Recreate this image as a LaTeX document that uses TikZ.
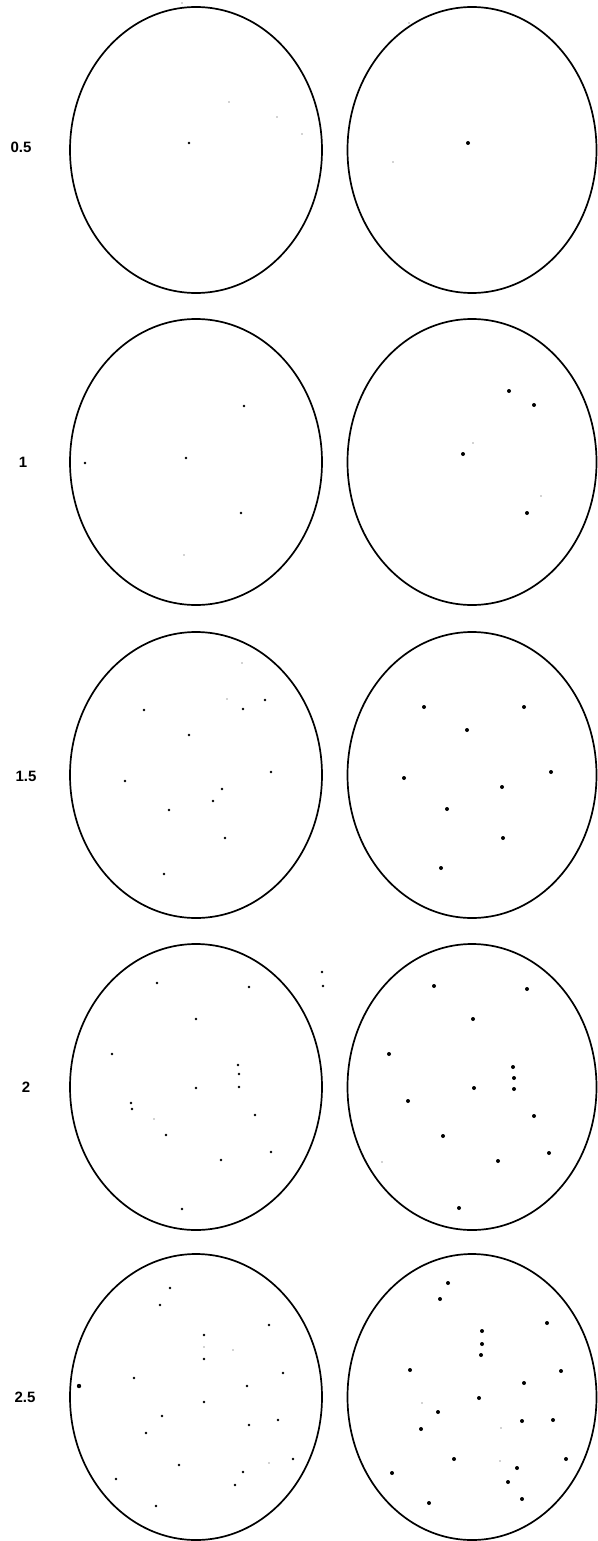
\documentclass[tikz,border=0pt]{standalone}
\usepackage{fontspec}
\setsansfont{Liberation Sans}

\begin{document}
\begin{tikzpicture}[
    x=1pt, y=-1pt,
    % --- Styles ---
    dish/.style={line width=1.7pt, draw=black},
    rowlabel/.style={font=\sffamily\bfseries\fontsize{15}{15}\selectfont, inner sep=0pt},
    dotsmall/.style={fill=black},
    dotfaint/.style={fill=black!35}
]

    % ── Frame ───────────────────────────────────────────────────────────
    \useasboundingbox (0,0) rectangle (597,1541);

    % ── Row labels ──────────────────────────────────────────────────────
    \node (lab05) [rowlabel] at (21,147)  {0.5};
    \node (lab10) [rowlabel] at (23,462)  {1};
    \node (lab15) [rowlabel] at (26,776)  {1.5};
    \node (lab20) [rowlabel] at (26,1087) {2};
    \node (lab25) [rowlabel] at (25,1397) {2.5};

    % ── Dishes ──────────────────────────────────────────────────────────
    \foreach \cy in {150,462,775,1087,1397} {
        \draw [dish] (196,\cy) ellipse [x radius=126, y radius=143];
        \draw [dish] (472,\cy) ellipse [x radius=124.5, y radius=143];
    }

    % ── Dots, left column ───────────────────────────────────────────────
    \foreach \px/\py in {
        189/143,
        244/406, 186/458, 85/463, 241/513,
        265/700, 243/709, 144/710, 189/735, 271/772, 125/781, 222/789,
        213/801, 169/810, 225/838, 164/874,
        157/983, 249/987, 196/1019, 112/1054, 238/1065, 239/1074, 239/1087,
        196/1088, 131/1103, 132/1109, 166/1135, 255/1115, 271/1152, 221/1160,
        182/1209, 322/972, 323/986,
        170/1288, 160/1305, 269/1325, 204/1335, 204/1359, 134/1378, 283/1373,
        247/1386, 204/1402, 162/1416, 249/1425, 278/1420, 146/1433, 179/1465,
        293/1459, 243/1472, 235/1485, 116/1479, 156/1506}
        \fill [dotsmall] (\px,\py) circle [radius=1.4];
    \fill [dotsmall] (79,1386) circle [radius=2.2];

    % ── Dots, right column ──────────────────────────────────────────────
    \foreach \px/\py in {
        468/143,
        509/391, 534/405, 463/454, 527/513,
        424/707, 524/707, 467/730, 551/772, 404/778, 502/787, 447/809,
        503/838, 441/868,
        434/986, 527/989, 473/1019, 389/1054, 513/1067, 514/1078, 514/1089,
        474/1088, 408/1101, 534/1116, 443/1136, 549/1153, 498/1161, 459/1208,
        448/1283, 440/1299, 547/1323, 482/1331, 482/1344, 481/1355, 410/1370,
        561/1371, 524/1383, 479/1398, 438/1412, 522/1421, 553/1420, 421/1429,
        454/1459, 566/1459, 517/1468, 392/1473, 508/1482, 429/1503, 522/1499}
        \fill [dotsmall] (\px,\py) circle [radius=2];

    % ── Faint specks ────────────────────────────────────────────────────
    \foreach \px/\py in {
        229/102, 277/117, 302/134, 182/3, 393/162, 409/23,
        184/555, 473/443, 541/496, 242/663, 227/699, 154/1119, 382/1162,
        204/1347, 233/1350, 269/1463, 422/1403, 501/1428, 500/1461}
        \fill [dotfaint] (\px,\py) circle [radius=0.8];

\end{tikzpicture}
\end{document}
